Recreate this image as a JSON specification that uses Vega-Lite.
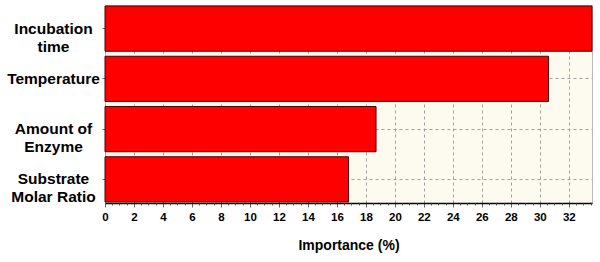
{
  "$schema": "https://vega.github.io/schema/vega-lite/v6.json",
  "width": 487,
  "height": 198,
  "autosize": {"type": "none"},
  "padding": {"left": 105, "top": 5, "right": 8, "bottom": 59},
  "background": "white",
  "config": {
    "view": {"fill": "#FDFAF0", "stroke": "#BBBBBB"},
    "font": "Liberation Sans"
  },
  "data": {
    "values": [
      {"factor": "Incubation time", "importance": 33.6},
      {"factor": "Temperature", "importance": 30.6},
      {"factor": "Amount of Enzyme", "importance": 18.7},
      {"factor": "Substrate Molar Ratio", "importance": 16.8}
    ]
  },
  "resolve": {"axis": {"x": "independent"}},
  "layer": [
    {
      "mark": {"type": "bar", "color": "#FF0000", "stroke": "#500000", "strokeWidth": 1},
      "encoding": {
        "y": {
          "field": "factor",
          "type": "nominal",
          "sort": null,
          "scale": {"paddingInner": 0.1, "paddingOuter": 0.02},
          "axis": {
            "title": null,
            "labelExpr": "datum.label == 'Incubation time' ? ['Incubation','time'] : datum.label == 'Amount of Enzyme' ? ['Amount of','Enzyme'] : datum.label == 'Substrate Molar Ratio' ? ['Substrate','Molar Ratio'] : datum.label",
            "labelAlign": "center",
            "labelBaseline": "middle",
            "labelPadding": 49,
            "labelFontSize": 15.5,
            "labelFontWeight": "bold",
            "labelColor": "black",
            "labelLineHeight": 18,
            "tickSize": 3,
            "tickColor": "#666",
            "domain": false,
            "grid": true,
            "gridColor": "#A0A0A0",
            "gridDash": [3, 3],
            "gridWidth": 1
          }
        },
        "x": {
          "field": "importance",
          "type": "quantitative",
          "scale": {"domain": [0, 33.6], "nice": false, "zero": true},
          "axis": {
            "title": "Importance (%)",
            "titleFontSize": 14,
            "titleFontWeight": "bold",
            "titleColor": "black",
            "titlePadding": 16,
            "values": [0, 2, 4, 6, 8, 10, 12, 14, 16, 18, 20, 22, 24, 26, 28, 30, 32],
            "labelFontSize": 11.5,
            "labelFontWeight": "bold",
            "labelColor": "black",
            "labelPadding": 4,
            "labelFlush": false,
            "tickSize": 4,
            "tickColor": "#666",
            "domainColor": "black",
            "domainWidth": 1.5,
            "grid": true,
            "gridColor": "#A0A0A0",
            "gridDash": [3, 3],
            "gridWidth": 1
          }
        }
      }
    },
    {
      "mark": {"type": "rule", "opacity": 0},
      "encoding": {
        "x": {
          "field": "importance",
          "type": "quantitative",
          "axis": {
            "orient": "bottom",
            "title": null,
            "labels": false,
            "domain": false,
            "grid": false,
            "zindex": 2,
            "tickSize": 2,
            "tickColor": "#555",
            "values": [0.5, 1, 1.5, 2.5, 3, 3.5, 4.5, 5, 5.5, 6.5, 7, 7.5, 8.5, 9, 9.5, 10.5, 11, 11.5, 12.5, 13, 13.5, 14.5, 15, 15.5, 16.5, 17, 17.5, 18.5, 19, 19.5, 20.5, 21, 21.5, 22.5, 23, 23.5, 24.5, 25, 25.5, 26.5, 27, 27.5, 28.5, 29, 29.5, 30.5, 31, 31.5, 32.5, 33, 33.5]
          }
        }
      }
    }
  ]
}
